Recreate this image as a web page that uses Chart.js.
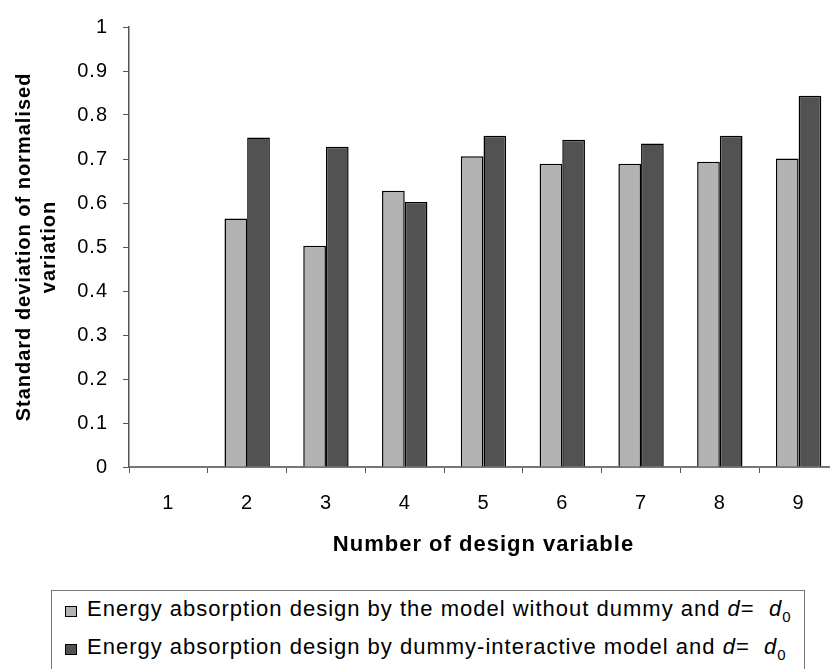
<html>
<head>
    <title>Standard deviation of normalised variation</title>
    <script src="https://cdn.jsdelivr.net/npm/chart.js"></script>
    <style>
        body { margin: 0; background: #fff; overflow: hidden; }
        #wrap { position: relative; width: 830px; height: 669px; overflow: hidden; }
        #chart { position: absolute; left: 0; top: 0; }
        #legend {
            position: absolute; left: 51px; top: 590px; width: 754px; height: 100px;
            border: 1.5px solid #777; box-sizing: border-box;
            font-family: 'Liberation Sans', Arial, sans-serif; font-size: 22px; color: #000;
            letter-spacing: 1px;
        }
        .row { position: absolute; left: 13px; white-space: nowrap; line-height: 25px; }
        .sw { display: inline-block; width: 10px; height: 9px; border: 1.4px solid #000; margin-right: 10px; vertical-align: -1px; }
        sub { font-size: 15px; vertical-align: -6px; line-height: 0; letter-spacing: 0; }
    </style>
</head>
<body>
<div id="wrap">
    <canvas id="chart" width="860" height="590"></canvas>
    <div id="legend"></div>
</div>
<script>
    const categories = ['1', '2', '3', '4', '5', '6', '7', '8', '9'];
    const withoutDummy = [null, 0.565, 0.503, 0.628, 0.706, 0.689, 0.689, 0.694, 0.701];
    const dummyInteractive = [null, 0.749, 0.728, 0.602, 0.753, 0.744, 0.735, 0.753, 0.844];
    const seriesNames = [
        'Energy absorption design by the model without dummy and ',
        'Energy absorption design by dummy-interactive model and '
    ];
    const seriesColors = ['#b3b3b3', '#525252'];
    const yTicks = [0, 0.1, 0.2, 0.3, 0.4, 0.5, 0.6, 0.7, 0.8, 0.9, 1];

    const font = "'Liberation Sans', Arial, sans-serif";

    // the original text is set a little wider than plain Arial
    const spacing = {
        id: 'spacing',
        beforeDraw: chart => { chart.ctx.letterSpacing = '1px'; }
    };

    new Chart(document.getElementById('chart').getContext('2d'), {
        type: 'bar',
        data: {
            labels: categories,
            datasets: [withoutDummy, dummyInteractive].map((values, i) => ({
                label: seriesNames[i] + 'd = d0',
                data: values,
                backgroundColor: seriesColors[i],
                borderColor: '#000',
                borderWidth: 1.5,
                categoryPercentage: 0.576,
                barPercentage: 1.0
            }))
        },
        plugins: [spacing],
        options: {
            responsive: false,
            animation: false,
            layout: { padding: { top: 18, right: 22, left: 0, bottom: 0 } },
            plugins: { legend: { display: false }, tooltip: { enabled: false } },
            scales: {
                x: {
                    afterFit: s => { s.height = 123; },
                    grid: { display: true, offset: true, drawOnChartArea: false, drawTicks: true, tickLength: 6, color: '#555' },
                    border: { display: true, color: '#777', width: 2 },
                    ticks: { font: { family: font, size: 20 }, color: '#000', padding: 18 },
                    title: {
                        display: true, text: 'Number of design variable',
                        font: { family: font, size: 22, weight: 'bold', lineHeight: 1.2 }, color: '#000',
                        padding: { top: 0, bottom: 32 }
                    }
                },
                y: {
                    min: 0, max: 1,
                    afterFit: s => { s.width = 129; },
                    afterBuildTicks: s => { s.ticks = yTicks.map(v => ({ value: v })); },
                    grid: { display: true, drawOnChartArea: false, drawTicks: true, tickLength: 6, color: '#555' },
                    border: { display: true, color: '#555', width: 1.5 },
                    ticks: {
                        font: { family: font, size: 20 }, color: '#000', padding: 15,
                        callback: v => String(+v.toFixed(1))
                    },
                    title: {
                        display: true, text: ['Standard deviation of normalised', 'variation'],
                        font: { family: font, size: 20, weight: 'bold', lineHeight: 1.25 }, color: '#000',
                        padding: { top: 12, bottom: 0 }
                    }
                }
            }
        }
    });

    // legend drawn as html so the italic d and subscript 0 keep their look
    const legend = document.getElementById('legend');
    seriesNames.forEach((name, i) => {
        const row = document.createElement('div');
        row.className = 'row';
        row.style.top = (5 + i * 38) + 'px';
        row.innerHTML = '<span class="sw" style="background:' + seriesColors[i] + '"></span>' +
            name + '<i>d</i>= &nbsp;<i>d</i><sub>0</sub>';
        legend.appendChild(row);
    });
</script>
</body>
</html>
